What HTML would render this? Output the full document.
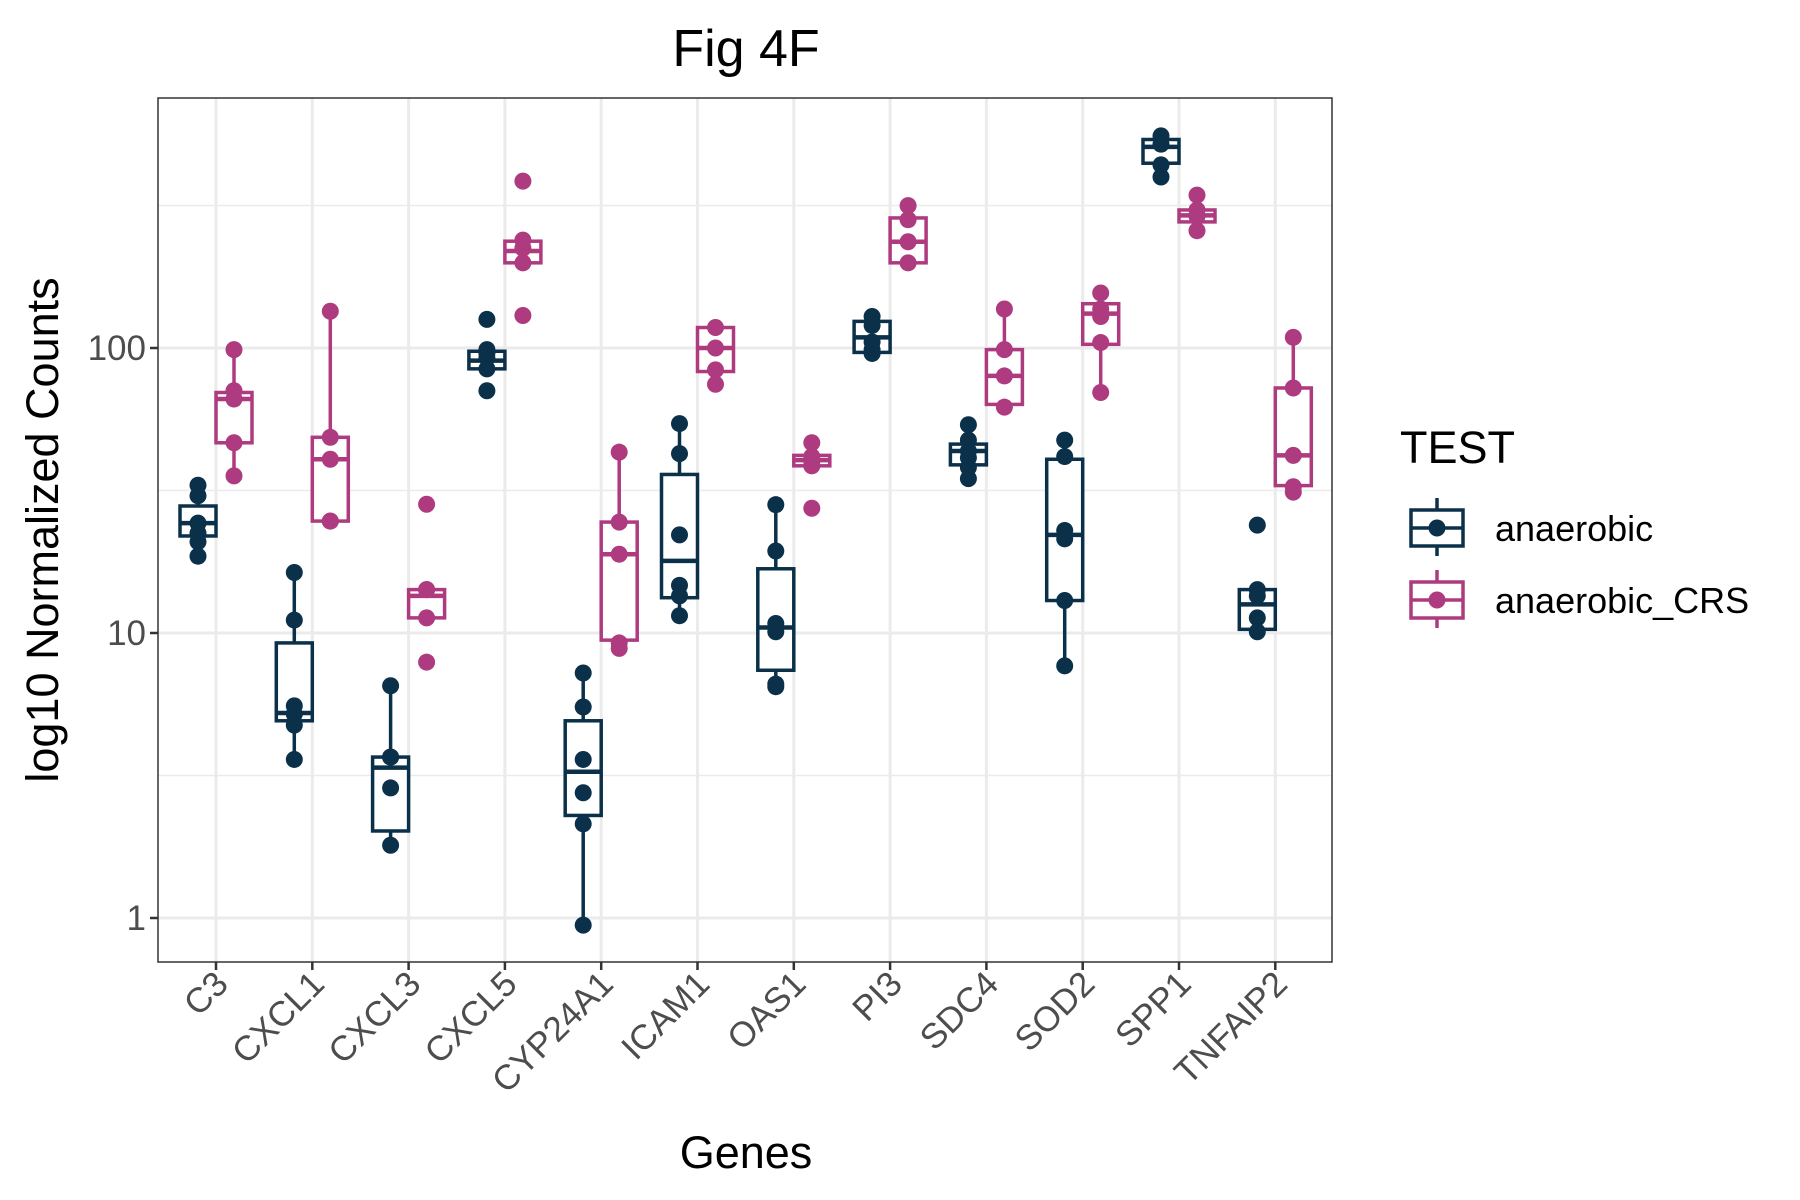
<!DOCTYPE html>
<html><head><meta charset="utf-8"><style>
html,body{margin:0;padding:0;background:#fff;}
svg{display:block;font-family:"Liberation Sans",Arial,sans-serif;}
</style></head><body>
<svg id="chart" width="1800" height="1200" viewBox="0 0 1800 1200" xmlns="http://www.w3.org/2000/svg">
<rect x="0" y="0" width="1800" height="1200" fill="#fff"/>
<text x="746" y="66" font-size="52" text-anchor="middle" fill="#000">Fig 4F</text>
<text x="746" y="1168" font-size="45" text-anchor="middle" fill="#000">Genes</text>
<text transform="translate(58,530) rotate(-90)" font-size="45" text-anchor="middle" fill="#000">log10 Normalized Counts</text>
<g id="grid"></g>
<g id="marks"></g>
<g id="axes"></g>
<g>
<text x="1400" y="463" font-size="45" fill="#000">TEST</text>
<g>
<line x1="1437" y1="498" x2="1437" y2="556" stroke="#0b3049" stroke-width="3.5"/>
<rect x="1411" y="510" width="52" height="36" fill="#fff" stroke="#0b3049" stroke-width="3.5"/>
<line x1="1411" y1="528" x2="1463" y2="528" stroke="#0b3049" stroke-width="3.5"/>
<circle cx="1437" cy="528" r="8.5" fill="#0b3049"/>
<text x="1495" y="541" font-size="36" fill="#000">anaerobic</text>
</g>
<g>
<line x1="1437" y1="570" x2="1437" y2="628" stroke="#ae3a7f" stroke-width="3.5"/>
<rect x="1411" y="582" width="52" height="36" fill="#fff" stroke="#ae3a7f" stroke-width="3.5"/>
<line x1="1411" y1="600" x2="1463" y2="600" stroke="#ae3a7f" stroke-width="3.5"/>
<circle cx="1437" cy="600" r="8.5" fill="#ae3a7f"/>
<text x="1495" y="613" font-size="36" fill="#000">anaerobic_CRS</text>
</g>
</g>
</svg>
<script>
const genes = ["C3","CXCL1","CXCL3","CXCL5","CYP24A1","ICAM1","OAS1","PI3","SDC4","SOD2","SPP1","TNFAIP2"];
const yTickValues = [1,10,100];
const yTickLabels = ["1","10","100"];
const yMinorValues = [Math.sqrt(10),Math.sqrt(1000),Math.sqrt(100000)];
// anaerobic series
const anaPoints = [
 [33,30.3,24.3,22.4,20.9,18.6],
 [16.3,11.1,5.55,5.19,4.75,3.6],
 [6.53,3.67,3.67,2.86,1.8],
 [126,98.7,95.7,92.3,84.5,70.8],
 [7.24,5.5,3.6,2.75,2.14,0.944],
 [54.3,42.6,22.1,14.7,13.5,11.5],
 [28.2,19.4,10.8,10.1,6.62,6.48],
 [129,120,105,98.7,95.7],
 [53.8,47.5,43.5,41.2,38.1,34.8],
 [47.5,41.6,22.9,21.4,13,7.67],
 [555,519,439,398],
 [23.9,14.2,13.5,11.3,10.1]
];
const anaQ1 = [21.9,4.92,2.02,84.5,2.29,13.3,7.4,96.5,38.9,13,445,10.3];
const anaMed = [24.3,5.24,3.37,90.3,3.26,17.9,10.45,109,43.5,22.1,508,12.6];
const anaQ3 = [27.9,9.23,3.67,97.4,4.92,36,16.8,124,46,40.7,539,14.2];
const anaLo = [18.6,3.6,1.8,84.5,0.944,11.5,6.48,95.7,34.8,7.67,398,10.1];
const anaHi = [33,16.3,6.53,98.7,7.24,54.3,28.2,129,53.8,47.5,555,14.2];
// anaerobic_CRS series
const crsPoints = [
 [98.7,70.8,66.2,46.5,35.6],
 [134.6,48.6,40.7,24.7,24.7],
 [28.3,14.2,14.2,11.3,7.9],
 [385,239,224,199,130],
 [43.1,24.5,18.9,9.23,8.83],
 [118,100,83.8,74.6],
 [46.5,41.6,39.8,38.6,27.4],
 [316,282,236,199],
 [137,98.7,79.8,62],
 [156,137,129,104.5,69.8],
 [344,305,290,258],
 [109,72.4,42,32.6,31.2]
];
const crsQ1 = [46.5,24.7,11.3,199,9.44,82.7,38.6,199,63.4,103,277,32.9];
const crsMed = [66.2,40.7,13.5,219,18.9,100,40.4,236,79.8,132,292,42];
const crsQ3 = [69.8,48.6,14.2,237,24.5,118,42,286,98.7,143,305,72.4];
const crsLo = [35.6,24.7,11.3,199,8.83,74.6,38.6,199,62,69.8,258,31.2];
const crsHi = [98.7,134.6,14.2,237,43.1,118,42,316,137,156,344,109];

const NS="http://www.w3.org/2000/svg";
const PL=158, PR=1332, PT=98, PB=962;
function yScale(v){ return 348 - (Math.log10(v)-2)*285; }
function xScale(i){ return 216 + i*96.3; }
const DODGE=18, HALF=18;
function mk(tag, attrs, parent){ const e=document.createElementNS(NS,tag); for(const k in attrs) e.setAttribute(k,attrs[k]); parent.appendChild(e); return e; }
const grid=document.getElementById('grid'), marks=document.getElementById('marks'), axes=document.getElementById('axes');
mk('rect',{x:PL,y:PT,width:PR-PL,height:PB-PT,fill:'#fff'},grid);
yMinorValues.forEach(v=>{ const l=mk('line',{x1:PL,x2:PR,y1:yScale(v),y2:yScale(v),stroke:'#ebebeb','stroke-width':1.5},grid);

 });
yTickValues.forEach(v=>{ const l=mk('line',{x1:PL,x2:PR,y1:yScale(v),y2:yScale(v),stroke:'#ebebeb','stroke-width':3},grid);

 });
genes.forEach((g,i)=>{ const l=mk('line',{x1:xScale(i),x2:xScale(i),y1:PT,y2:PB,stroke:'#ebebeb','stroke-width':3},grid);

 });

function drawGroup(i, off, col, pts, q1, med, q3, lo, hi, name){
  const g=mk('g',{},marks);
  
  
  const cx=xScale(i)+off;
  mk('line',{x1:cx,x2:cx,y1:yScale(hi),y2:yScale(q3),stroke:col,'stroke-width':3.5},g);
  mk('line',{x1:cx,x2:cx,y1:yScale(q1),y2:yScale(lo),stroke:col,'stroke-width':3.5},g);
  mk('rect',{x:cx-HALF,y:yScale(q3),width:2*HALF,height:Math.max(0.5,yScale(q1)-yScale(q3)),fill:'#fff',stroke:col,'stroke-width':3.5},g);
  mk('line',{x1:cx-HALF,x2:cx+HALF,y1:yScale(med),y2:yScale(med),stroke:col,'stroke-width':4.5},g);
  pts.forEach(v=>{ const c=mk('circle',{cx:cx,cy:yScale(v),r:8.5,fill:col},g);
    
     });
}
genes.forEach((g,i)=>{
  drawGroup(i,-DODGE,'#0b3049',anaPoints[i],anaQ1[i],anaMed[i],anaQ3[i],anaLo[i],anaHi[i],'box-anaerobic');
  drawGroup(i,DODGE,'#ae3a7f',crsPoints[i],crsQ1[i],crsMed[i],crsQ3[i],crsLo[i],crsHi[i],'box-anaerobic-crs');
});
mk('rect',{x:PL,y:PT,width:PR-PL,height:PB-PT,fill:'none',stroke:'#333','stroke-width':1.5},axes);
yTickValues.forEach((v,k)=>{
  const y=yScale(v);
  mk('line',{x1:PL-8,x2:PL,y1:y,y2:y,stroke:'#333','stroke-width':2.5},axes);
  const t=mk('text',{x:PL-12,y:y+12,'font-size':35,'text-anchor':'end',fill:'#4d4d4d'},axes);
  t.textContent=yTickLabels[k];
  
  
});
genes.forEach((gn,i)=>{
  const x=xScale(i);
  mk('line',{x1:x,x2:x,y1:PB,y2:PB+8,stroke:'#333','stroke-width':2.5},axes);
  const t=mk('text',{transform:'translate('+(x+14)+','+(PB+24)+') rotate(-45)','font-size':35,'text-anchor':'end',fill:'#4d4d4d'},axes);
  t.textContent=gn;
  
  
});
</script>
</body></html>
